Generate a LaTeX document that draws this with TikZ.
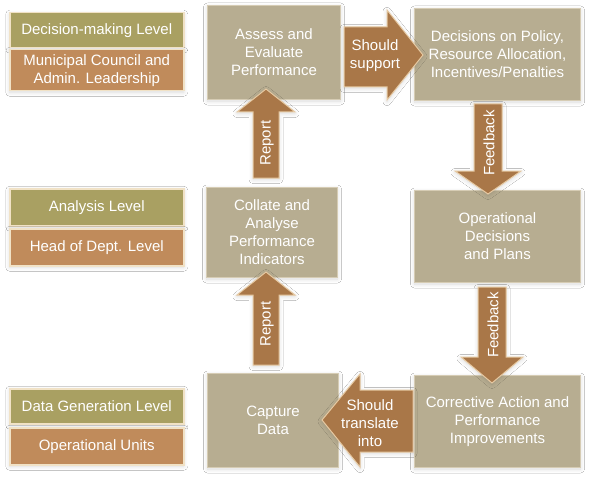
\documentclass[tikz,border=0pt]{standalone}
\usepackage{fontspec}
\setmainfont{Liberation Sans}
\usetikzlibrary{shadows.blur}
\definecolor{boxfill}{HTML}{B7AD91}
\definecolor{boxedge}{HTML}{D6CCB4}
\definecolor{olive}{HTML}{A9A062}
\definecolor{labbrown}{HTML}{C08B5B}
\definecolor{arrfill}{HTML}{A97748}
\definecolor{arredge}{HTML}{E6C9A2}
\definecolor{labedge}{HTML}{F1E2C6}
\tikzset{
  txt/.style={text=white, align=center, font=\fontsize{15}{18}\selectfont},
  softshadow/.style={blur shadow={shadow xshift=0pt, shadow yshift=-1.5pt, shadow opacity=15, shadow blur radius=4pt, shadow blur steps=10}},
  mainbox/.style={txt, draw=boxedge, line width=1pt, fill=boxfill, inner sep=0pt, anchor=north west, softshadow},
  levelbox/.style={txt, draw=labedge, line width=1.5pt, fill=olive, inner sep=0pt, anchor=north west, minimum width=174pt, softshadow},
  unitbox/.style={levelbox, fill=labbrown},
  blockarrow/.style={draw=arredge, line width=1pt, fill=arrfill, line join=miter, softshadow},
}
\begin{document}
\begin{tikzpicture}[x=1pt,y=1pt]
\useasboundingbox[fill=white] (0,0) rectangle (597,-484);
% level labels
\node[levelbox, minimum height=35pt] (l1a) at (9,-12) {Decision-making Level};
\node[unitbox, minimum height=41pt] (l1b) at (9,-49) {Municipal Council and\\Admin. Leadership};
\node[levelbox, minimum height=37pt] (l2a) at (9,-188) {Analysis Level};
\node[unitbox, minimum height=37pt] (l2b) at (9,-228) {Head of Dept. Level};
\node[levelbox, minimum height=35pt] (l3a) at (9,-388) {Data Generation Level};
\node[unitbox, minimum height=37pt] (l3b) at (9,-427) {Operational Units};
% main boxes
\node[mainbox, minimum width=133pt, minimum height=94pt] (assess) at (207,-5) {Assess and\\Evaluate\\Performance};
\node[mainbox, minimum width=166pt, minimum height=92pt] (policy) at (414,-8) {Decisions on Policy,\\Resource Allocation,\\Incentives/Penalties};
\node[mainbox, minimum width=131pt, minimum height=90pt] (collate) at (206,-187) {Collate and\\Analyse\\Performance\\Indicators};
\node[mainbox, minimum width=166pt, minimum height=92pt] (oper) at (414,-190) {Operational\\Decisions\\and Plans};
\node[mainbox, minimum width=131pt, minimum height=94pt] (capture) at (207,-373) {Capture\\Data};
\node[mainbox, minimum width=166pt, minimum height=92pt] (correct) at (414,-375) {Corrective Action and\\Performance\\Improvements};
% block arrows
\draw[blockarrow] (253,-178) -- (253,-112) -- (237,-112) -- (266,-89) -- (295,-112) -- (279,-112) -- (279,-178) -- cycle;
\draw[blockarrow] (253,-365) -- (253,-295) -- (237,-295) -- (266,-272) -- (295,-295) -- (279,-295) -- (279,-365) -- cycle;
\draw[blockarrow] (344,-27) -- (387,-27) -- (387,-10) -- (423,-55) -- (387,-100) -- (387,-87) -- (344,-87) -- cycle;
\draw[blockarrow] (474,-104) -- (502,-104) -- (502,-171) -- (521,-171) -- (488,-194) -- (455,-171) -- (474,-171) -- cycle;
\draw[blockarrow] (478,-287) -- (506,-287) -- (506,-357) -- (523,-357) -- (492,-383) -- (461,-357) -- (478,-357) -- cycle;
\draw[blockarrow] (413,-390) -- (360,-390) -- (360,-374) -- (322,-420) -- (360,-467) -- (360,-452) -- (413,-452) -- cycle;
% arrow labels
\node[txt, rotate=90] (rep1) at (267,-143) {Report};
\node[txt, rotate=90] (rep2) at (267,-324) {Report};
\node[txt, rotate=90] (fb1) at (489,-143) {Feedback};
\node[txt, rotate=90] (fb2) at (493,-325) {Feedback};
\node[txt] (sup) at (375,-56) {Should\\support};
\node[txt] (trans) at (370,-423) {Should\\translate\\into};
\end{tikzpicture}
\end{document}
